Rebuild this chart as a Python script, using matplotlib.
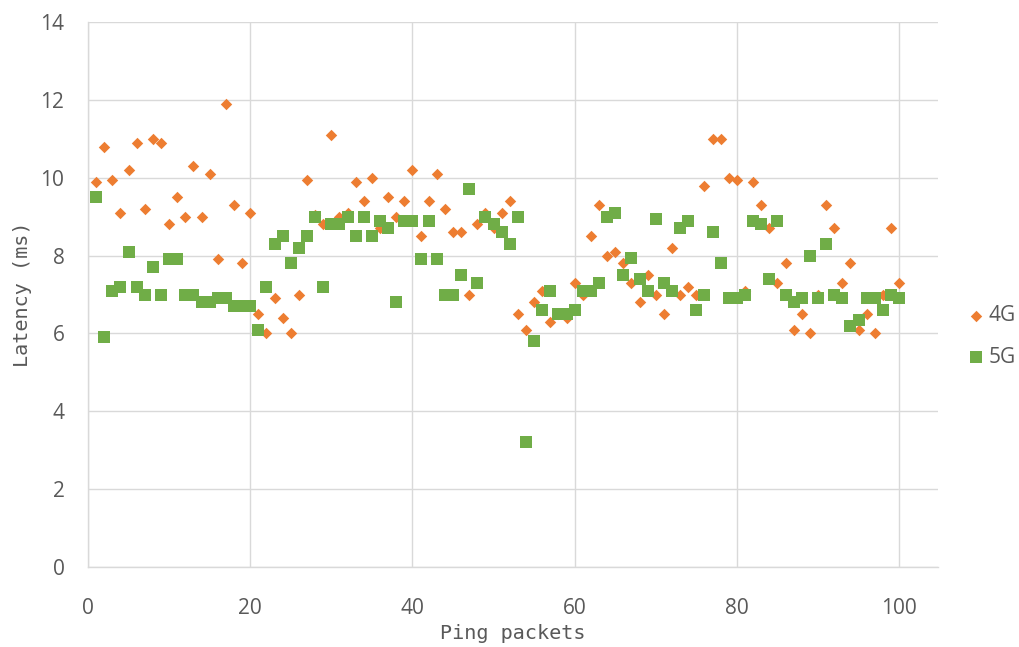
import matplotlib
matplotlib.use("Agg")
import matplotlib.pyplot as plt

packets = list(range(1, 101))
lat_4g = [9.9, 10.8, 9.95, 9.1, 10.2, 10.9, 9.2, 11.0, 10.9, 8.8,
          9.5, 9.0, 10.3, 9.0, 10.1, 7.9, 11.9, 9.3, 7.8, 9.1,
          6.5, 6.0, 6.9, 6.4, 6.0, 7.0, 9.95, 9.05, 8.8, 11.1,
          9.0, 9.1, 9.9, 9.4, 10.0, 8.7, 9.5, 9.0, 9.4, 10.2,
          8.5, 9.4, 10.1, 9.2, 8.6, 8.6, 7.0, 8.8, 9.1, 8.7,
          9.1, 9.4, 6.5, 6.1, 6.8, 7.1, 6.3, 6.5, 6.4, 7.3,
          7.0, 8.5, 9.3, 8.0, 8.1, 7.8, 7.3, 6.8, 7.5, 7.0,
          6.5, 8.2, 7.0, 7.2, 7.0, 9.8, 11.0, 11.0, 10.0, 9.95,
          7.1, 9.9, 9.3, 8.7, 7.3, 7.8, 6.1, 6.5, 6.0, 7.0,
          9.3, 8.7, 7.3, 7.8, 6.1, 6.5, 6.0, 7.0, 8.7, 7.3]
lat_5g = [9.5, 5.9, 7.1, 7.2, 8.1, 7.2, 7.0, 7.7, 7.0, 7.9,
          7.9, 7.0, 7.0, 6.8, 6.8, 6.9, 6.9, 6.7, 6.7, 6.7,
          6.1, 7.2, 8.3, 8.5, 7.8, 8.2, 8.5, 9.0, 7.2, 8.8,
          8.8, 9.0, 8.5, 9.0, 8.5, 8.9, 8.7, 6.8, 8.9, 8.9,
          7.9, 8.9, 7.9, 7.0, 7.0, 7.5, 9.7, 7.3, 9.0, 8.8,
          8.6, 8.3, 9.0, 3.2, 5.8, 6.6, 7.1, 6.5, 6.5, 6.6,
          7.1, 7.1, 7.3, 9.0, 9.1, 7.5, 7.95, 7.4, 7.1, 8.95,
          7.3, 7.1, 8.7, 8.9, 6.6, 7.0, 8.6, 7.8, 6.9, 6.9,
          7.0, 8.9, 8.8, 7.4, 8.9, 7.0, 6.8, 6.9, 8.0, 6.9,
          8.3, 7.0, 6.9, 6.2, 6.35, 6.9, 6.9, 6.6, 7.0, 6.9]
series_names = ["4G", "5G"]
x_ticks = [0, 20, 40, 60, 80, 100]
y_ticks = [0, 2, 4, 6, 8, 10, 12, 14]

fig = plt.figure(figsize=(10.2, 6.47), dpi=100)
ax = fig.add_axes([88/1020, 1 - 567/647, (938 - 88)/1020, (567 - 22)/647])

ax.scatter(packets, lat_4g, marker="D", s=34, color="#ED7D31", label=series_names[0],
           linewidths=0, zorder=3)
ax.scatter(packets, lat_5g, marker="s", s=66, color="#70AD47", label=series_names[1],
           linewidths=0, zorder=4)

ax.set_xlim(0, 104.8)
ax.set_ylim(0, 14)
ax.set_xticks(x_ticks)
ax.set_yticks(y_ticks)
ax.grid(True, color="#D9D9D9", linewidth=1.0, zorder=0)
ax.set_axisbelow(True)
for side in ["top", "right"]:
    ax.spines[side].set_visible(False)
for side in ["left", "bottom"]:
    ax.spines[side].set_color("#D9D9D9")
    ax.spines[side].set_linewidth(1.0)
ax.tick_params(axis="both", length=0, labelsize=15, labelcolor="#595959")
ax.tick_params(axis="y", pad=17)
ax.tick_params(axis="x", pad=22)
for lbl in ax.get_xticklabels() + ax.get_yticklabels():
    lbl.set_fontfamily("Open Sans")

ax.set_xlabel("Ping packets", fontsize=14.5, color="#595959", family="DejaVu Sans Mono", labelpad=4)
ax.set_ylabel("Latency (ms)", fontsize=14.5, color="#595959", family="DejaVu Sans Mono", labelpad=6)

leg = fig.legend(loc="center left", bbox_to_anchor=(0.945, 0.48), frameon=False,
                 prop={"family": "Open Sans", "size": 15}, labelcolor="#595959",
                 handletextpad=0.0, labelspacing=1.0, handlelength=1.2,
                 borderaxespad=0.0, borderpad=0.0)

fig.savefig("out.png", dpi=100)
